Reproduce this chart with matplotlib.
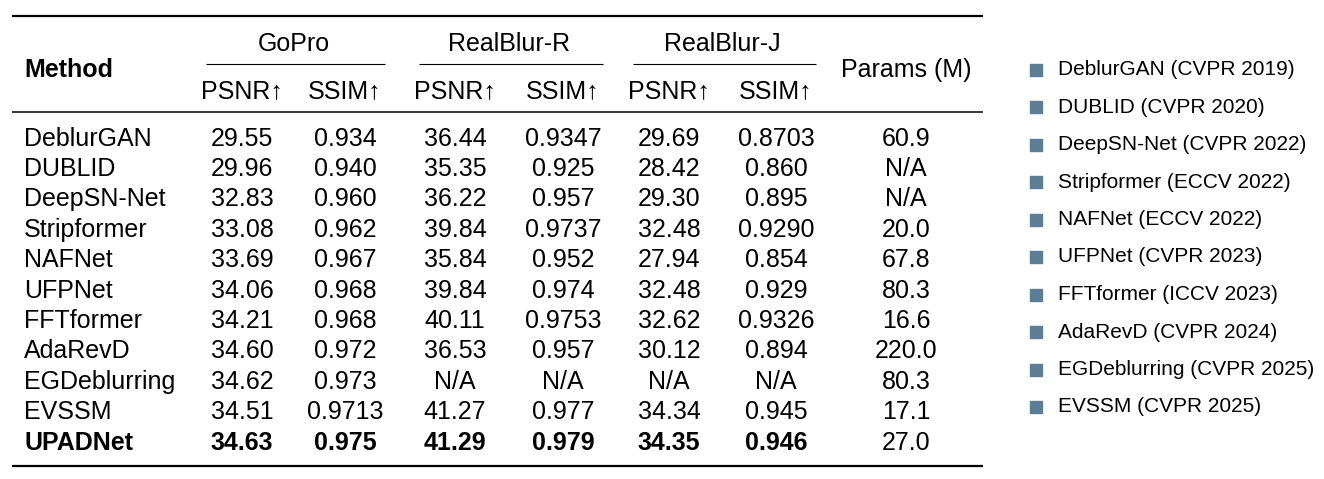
import matplotlib.pyplot as plt

plt.rcParams['font.family'] = ['Liberation Sans', 'DejaVu Sans']

""" Table data """
methods = ["DeblurGAN", "DUBLID", "DeepSN-Net", "Stripformer", "NAFNet", "UFPNet",
           "FFTformer", "AdaRevD", "EGDeblurring", "EVSSM", "UPADNet"]
gopro_psnr = ["29.55", "29.96", "32.83", "33.08", "33.69", "34.06", "34.21", "34.60", "34.62", "34.51", "34.63"]
gopro_ssim = ["0.934", "0.940", "0.960", "0.962", "0.967", "0.968", "0.968", "0.972", "0.973", "0.9713", "0.975"]
realr_psnr = ["36.44", "35.35", "36.22", "39.84", "35.84", "39.84", "40.11", "36.53", "N/A", "41.27", "41.29"]
realr_ssim = ["0.9347", "0.925", "0.957", "0.9737", "0.952", "0.974", "0.9753", "0.957", "N/A", "0.977", "0.979"]
realj_psnr = ["29.69", "28.42", "29.30", "32.48", "27.94", "32.48", "32.62", "30.12", "N/A", "34.34", "34.35"]
realj_ssim = ["0.8703", "0.860", "0.895", "0.9290", "0.854", "0.929", "0.9326", "0.894", "N/A", "0.945", "0.946"]
params = ["60.9", "N/A", "N/A", "20.0", "67.8", "80.3", "16.6", "220.0", "80.3", "17.1", "27.0"]

datasets = ["GoPro", "RealBlur-R", "RealBlur-J"]
metrics = ["PSNR↑", "SSIM↑"]

legend_labels = ["DeblurGAN (CVPR 2019)", "DUBLID (CVPR 2020)", "DeepSN-Net (CVPR 2022)",
                 "Stripformer (ECCV 2022)", "NAFNet (ECCV 2022)", "UFPNet (CVPR 2023)",
                 "FFTformer (ICCV 2023)", "AdaRevD (CVPR 2024)", "EGDeblurring (CVPR 2025)",
                 "EVSSM (CVPR 2025)"]

""" Layout (pixel coordinates) """
fig = plt.figure(figsize=(13.24, 4.79), dpi=100)
ax = fig.add_axes([0, 0, 1, 1])
ax.set_xlim(0, 1324)
ax.set_ylim(479, 0)
ax.axis('off')

fs = 18
col_x = [242, 345, 455, 563, 669, 776]
params_x = 906
row_y0, row_dy = 138.5, 30.4

# rules
ax.hlines(15.5, 12, 983, color='black', lw=1.6)
ax.hlines(111.5, 12, 983, color='black', lw=1.1)
ax.hlines(466, 12, 983, color='black', lw=1.6)
for i, name in enumerate(datasets):
    x1, x2 = col_x[2 * i], col_x[2 * i + 1]
    ax.hlines(64, x1 - 36, x2 + 40, color='black', lw=0.8)
    ax.text((x1 + x2) / 2, 43.5, name, ha='center', va='center', fontsize=fs)
    for j, m in enumerate(metrics):
        ax.text(col_x[2 * i + j], 91, m, ha='center', va='center', fontsize=fs)

ax.text(24, 70, "Method", ha='left', va='center', fontsize=fs, fontweight='bold')
ax.text(params_x, 70, "Params (M)", ha='center', va='center', fontsize=fs)

columns = [gopro_psnr, gopro_ssim, realr_psnr, realr_ssim, realj_psnr, realj_ssim]
for r, m in enumerate(methods):
    y = row_y0 + r * row_dy
    w = 'bold' if m == "UPADNet" else 'normal'
    ax.text(24, y, m, ha='left', va='center', fontsize=fs, fontweight=w)
    for c, col in enumerate(columns):
        ax.text(col_x[c], y, col[r], ha='center', va='center', fontsize=fs, fontweight=w)
    ax.text(params_x, y, params[r], ha='center', va='center', fontsize=fs)

# legend list
for k, lab in enumerate(legend_labels):
    y = 69.5 + k * 37.5
    ax.plot(1036, y, marker='s', ms=8, color='#5b7e96', ls='none')
    ax.text(1058, y, lab, ha='left', va='center', fontsize=15)

plt.savefig('out.png', dpi=100)
